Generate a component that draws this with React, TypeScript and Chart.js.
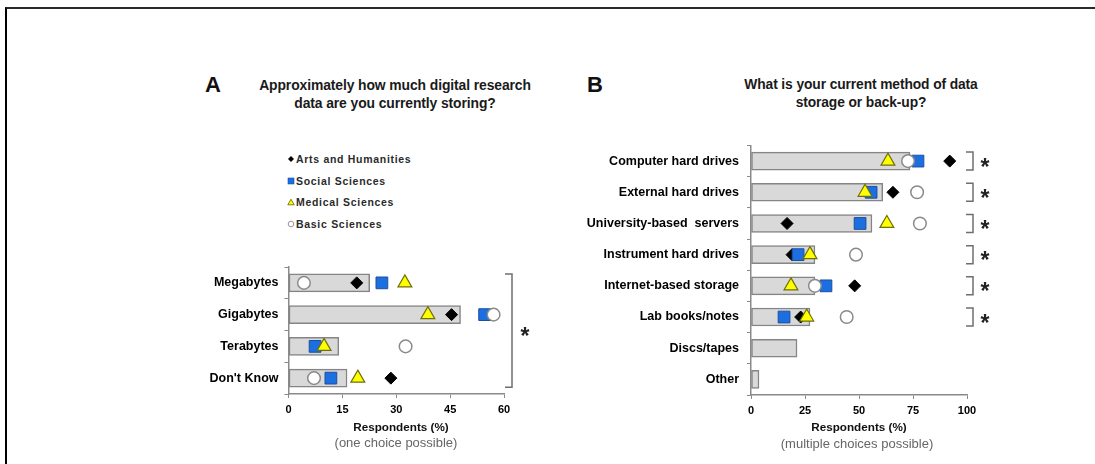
import React, { useEffect, useRef } from 'react';
import { Chart, registerables } from 'chart.js';

Chart.register(...registerables);

const FONT = '"Liberation Sans", Arial, Helvetica, sans-serif';

// ---------- Panel A data ----------
const categoriesA = ['Megabytes', 'Gigabytes', 'Terabytes', "Don't Know"];
const overallA = [22.6, 47.9, 14.0, 16.3];
const artsA = [19.0, 45.4, null, 28.5];
const socialA = [26.0, 54.6, 7.4, 11.8];
const medicalA = [32.4, 38.8, 9.9, 19.3];
const basicA = [4.3, 57.1, 32.6, 7.1];
const ticksA = [0, 15, 30, 45, 60];
const significanceA = [[0, 3]];

// ---------- Panel B data ----------
const categoriesB = [
  'Computer hard drives',
  'External hard drives',
  'University-based  servers',
  'Instrument hard drives',
  'Internet-based storage',
  'Lab books/notes',
  'Discs/tapes',
  'Other',
];
const overallB = [73.6, 61.0, 56.0, 29.6, 29.6, 27.3, 21.3, 3.7];
const artsB = [92.0, 65.7, 16.7, 19.0, 48.0, 23.0, null, null];
const socialB = [77.3, 55.6, 50.5, 21.8, 34.7, 15.3, null, null];
const medicalB = [63.4, 52.8, 62.9, 27.3, 18.5, 25.8, null, null];
const basicB = [72.7, 76.9, 78.2, 48.6, 29.6, 44.3, null, null];
const ticksB = [0, 25, 50, 75, 100];
const significanceB = [[0, 0], [1, 1], [2, 2], [3, 3], [4, 4], [5, 5]];

const seriesNames = ['Arts and Humanities', 'Social Sciences', 'Medical Sciences', 'Basic Sciences'];

const seriesStyle = [
  { pointStyle: 'rectRot', radius: 6, bg: '#000000', border: '#000000', bw: 1, order: 4 },
  { pointStyle: 'rect', radius: 8.3, bg: '#1c6fe0', border: '#1d4f9e', bw: 1, order: 3 },
  { pointStyle: 'triangle', radius: 8, bg: '#ffff00', border: '#6f6f10', bw: 1.2, order: 1 },
  { pointStyle: 'circle', radius: 6.3, bg: '#ffffff', border: '#8a8a8a', bw: 1.5, order: 2 },
];

const bracketPlugin = {
  id: 'sigBrackets',
  afterDatasetsDraw(chart: any, _args: any, opts: any) {
    const { ctx } = chart;
    const x = chart.scales.x;
    const y = chart.scales.y;
    ctx.save();
    for (const [a, b] of opts.spans as number[][]) {
      const top = y.getPixelForValue(a) - opts.half;
      const bot = y.getPixelForValue(b) + opts.half;
      const bx = x.right + opts.offset;
      ctx.strokeStyle = '#6f6f6f';
      ctx.lineWidth = 1.5;
      ctx.beginPath();
      ctx.moveTo(bx - opts.arm, top);
      ctx.lineTo(bx, top);
      ctx.lineTo(bx, bot);
      ctx.lineTo(bx - opts.arm, bot);
      ctx.stroke();
      ctx.fillStyle = '#222222';
      ctx.font = `bold ${opts.starSize}px ${FONT}`;
      ctx.textAlign = 'center';
      ctx.textBaseline = 'alphabetic';
      const m = ctx.measureText('*');
      const asc = m.actualBoundingBoxAscent || opts.starSize * 0.72;
      const desc = m.actualBoundingBoxDescent || -opts.starSize * 0.42;
      const center = (top + bot) / 2 + 1;
      ctx.fillText('*', bx + opts.starGap, center + (asc - desc) / 2);
    }
    ctx.restore();
  },
};

function buildConfig(
  categories: string[],
  overall: number[],
  groups: (number | null)[][],
  ticks: number[],
  spans: number[][],
  layout: { yWidth: number; xHeight: number; top: number; right: number; labelPad: number },
  bracket: { offset: number; starGap: number }
): any {
  const pointSets = groups.map((vals, i) => {
    const s = seriesStyle[i];
    return {
      type: 'line',
      label: seriesNames[i],
      data: vals,
      showLine: false,
      pointStyle: s.pointStyle,
      pointRadius: s.radius,
      pointHoverRadius: s.radius,
      pointBackgroundColor: s.bg,
      pointBorderColor: s.border,
      pointBorderWidth: s.bw,
      backgroundColor: s.bg,
      borderColor: s.border,
      order: s.order,
      indexAxis: 'y',
    };
  });
  return {
    type: 'bar',
    data: {
      labels: categories,
      datasets: [
        {
          type: 'bar',
          label: 'All respondents',
          data: overall,
          backgroundColor: '#d9d9d9',
          borderColor: '#858585',
          borderWidth: 1.5,
          borderSkipped: false,
          barThickness: 18,
          order: 10,
        },
        ...pointSets,
      ],
    },
    options: {
      indexAxis: 'y',
      responsive: false,
      animation: false,
      events: [],
      layout: { padding: { left: 0, top: layout.top, right: layout.right, bottom: 0 } },
      plugins: {
        legend: { display: false },
        tooltip: { enabled: false },
        title: { display: false },
        sigBrackets: { spans, half: 9, arm: 7, offset: bracket.offset, starGap: bracket.starGap, starSize: 23 },
      },
      scales: {
        x: {
          type: 'linear',
          min: ticks[0],
          max: ticks[ticks.length - 1],
          afterBuildTicks: (scale: any) => {
            scale.ticks = ticks.map((v) => ({ value: v }));
          },
          afterFit: (scale: any) => {
            scale.height = layout.xHeight;
          },
          ticks: {
            color: '#000000',
            font: { family: FONT, size: 11, weight: 'bold' },
            padding: 5,
            maxRotation: 0,
          },
          grid: { drawOnChartArea: false, drawTicks: true, tickLength: 4, color: '#8a8a8a', lineWidth: 1 },
          border: { display: true, color: '#8a8a8a', width: 1.5 },
        },
        y: {
          type: 'category',
          offset: true,
          afterFit: (scale: any) => {
            scale.width = layout.yWidth;
          },
          ticks: {
            color: '#000000',
            font: { family: FONT, size: 12.5, weight: 'bold' },
            padding: layout.labelPad,
            autoSkip: false,
          },
          grid: { offset: true, drawOnChartArea: false, drawTicks: true, tickLength: 4, color: '#8a8a8a', lineWidth: 1 },
          border: { display: true, color: '#8a8a8a', width: 1.5 },
        },
      },
    },
    plugins: [bracketPlugin],
  };
}

function ChartCanvas({ config, width, height, style }: { config: any; width: number; height: number; style: React.CSSProperties }) {
  const ref = useRef<HTMLCanvasElement | null>(null);
  useEffect(() => {
    if (!ref.current) return;
    const chart = new Chart(ref.current, config);
    return () => chart.destroy();
  }, [config]);
  return <canvas ref={ref} width={width} height={height} style={{ position: 'absolute', width, height, ...style }} />;
}

const configA = buildConfig(
  categoriesA,
  overallA,
  [artsA, socialA, medicalA, basicA],
  ticksA,
  significanceA,
  { yWidth: 108.5, xHeight: 26, top: 17, right: 36, labelPad: 6 },
  { offset: 8, starGap: 13 }
);

const configB = buildConfig(
  categoriesB,
  overallB,
  [artsB, socialB, medicalB, basicB],
  ticksB,
  significanceB,
  { yWidth: 171, xHeight: 25, top: 9, right: 43, labelPad: 8 },
  { offset: 6, starGap: 12 }
);

function LegendMarker({ kind }: { kind: number }) {
  const common = { width: 8, height: 8, viewBox: '0 0 8 8', style: { display: 'block' } as React.CSSProperties };
  if (kind === 0)
    return (
      <svg {...common}>
        <polygon points="4,1 7,4 4,7 1,4" fill="#000" />
      </svg>
    );
  if (kind === 1)
    return (
      <svg {...common}>
        <rect x="1" y="1" width="6" height="6" fill="#1c6fe0" stroke="#1d4f9e" strokeWidth="0.6" />
      </svg>
    );
  if (kind === 2)
    return (
      <svg {...common}>
        <polygon points="4,1.2 7.2,6.8 0.8,6.8" fill="#ffff00" stroke="#6f6f10" strokeWidth="0.9" />
      </svg>
    );
  return (
    <svg {...common}>
      <circle cx="4" cy="4" r="2.8" fill="#fff" stroke="#8a8a8a" strokeWidth="0.9" />
    </svg>
  );
}

const legendRowsY = [159, 181, 202, 224];

export default function App() {
  const text = (s: React.CSSProperties): React.CSSProperties => ({
    position: 'absolute',
    fontFamily: FONT,
    whiteSpace: 'pre',
    margin: 0,
    ...s,
  });

  return (
    <div style={{ position: 'absolute', left: 0, top: 0, width: 1095, height: 464, background: '#fff', overflow: 'hidden' }}>
      {/* frame */}
      <div
        style={{
          position: 'absolute',
          left: 5,
          top: 7,
          width: 1095,
          height: 470,
          borderTop: '2px solid #2a2a2a',
          borderLeft: '2px solid #000',
          boxSizing: 'border-box',
        }}
      />

      {/* panel letters */}
      <div style={text({ left: 205, top: 74, fontSize: 22, lineHeight: '22px', fontWeight: 'bold', color: '#111' })}>A</div>
      <div style={text({ left: 587, top: 74, fontSize: 22, lineHeight: '22px', fontWeight: 'bold', color: '#111' })}>B</div>

      {/* titles */}
      <div
        style={text({ left: 245, top: 76, width: 300, textAlign: 'center', fontSize: 13.9, lineHeight: '18px', fontWeight: 'bold', color: '#1a1a1a', letterSpacing: '-0.1px' })}
      >
        {'Approximately how much digital research\ndata are you currently storing?'}
      </div>
      <div
        style={text({ left: 711, top: 76, width: 300, textAlign: 'center', fontSize: 13.8, lineHeight: '18px', fontWeight: 'bold', color: '#1a1a1a', letterSpacing: '-0.1px' })}
      >
        {'What is your current method of data\nstorage or back-up?'}
      </div>

      {/* legend */}
      {seriesNames.map((name, i) => (
        <div
          key={name}
          style={{
            position: 'absolute',
            left: 287,
            top: legendRowsY[i] - 8,
            height: 16,
            display: 'flex',
            alignItems: 'center',
            fontFamily: FONT,
            fontWeight: 'bold',
            fontSize: 10.5,
            letterSpacing: '0.7px',
            color: '#2a2a2a',
            whiteSpace: 'pre',
          }}
        >
          <LegendMarker kind={i} />
          <span style={{ marginLeft: 1 }}>{name}</span>
        </div>
      ))}

      {/* charts */}
      <ChartCanvas config={configA} width={360} height={170} style={{ left: 180, top: 250 }} />
      <ChartCanvas config={configB} width={430} height={290} style={{ left: 580, top: 130 }} />

      {/* axis titles */}
      <div style={text({ left: 301, top: 419, width: 200, textAlign: 'center', fontSize: 11.7, lineHeight: '16px', fontWeight: 'bold', color: '#111' })}>
        Respondents (%)
      </div>
      <div style={text({ left: 296, top: 435, width: 200, textAlign: 'center', fontSize: 13, lineHeight: '16px', color: '#666' })}>
        (one choice possible)
      </div>
      <div style={text({ left: 759, top: 419, width: 200, textAlign: 'center', fontSize: 11.7, lineHeight: '16px', fontWeight: 'bold', color: '#111' })}>
        Respondents (%)
      </div>
      <div style={text({ left: 757, top: 436, width: 200, textAlign: 'center', fontSize: 13, lineHeight: '16px', color: '#666' })}>
        (multiple choices possible)
      </div>
    </div>
  );
}
